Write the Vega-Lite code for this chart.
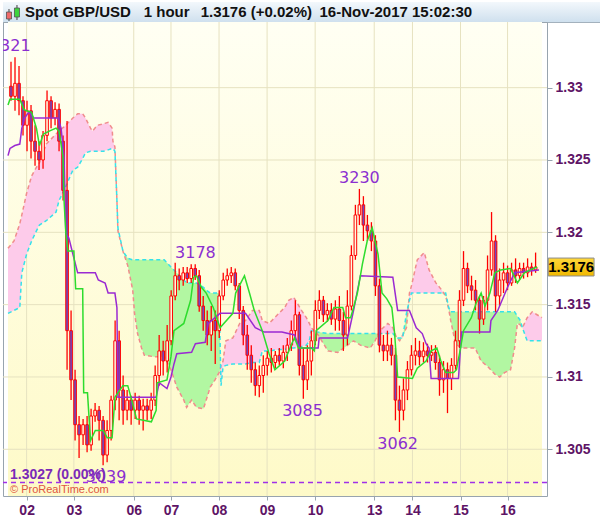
{
"$schema": "https://vega.github.io/schema/vega-lite/v6.json",
"padding": {"left": 1, "top": 1, "right": 0, "bottom": 0},
"background": "white",
"spacing": 0,
"bounds": "flush",
"config": {"view": {"stroke": null}, "font": "Liberation Sans"},
"datasets": {
"candles": [
{"t":1,"o":1.3301,"hi":1.3318,"lo":1.3291,"c":1.3294},
{"t":3,"o":1.3294,"hi":1.3321,"lo":1.3284,"c":1.3303},
{"t":5,"o":1.3303,"hi":1.3315,"lo":1.3281,"c":1.3291},
{"t":7,"o":1.3291,"hi":1.3294,"lo":1.3267,"c":1.3274},
{"t":9,"o":1.3274,"hi":1.3291,"lo":1.3256,"c":1.3284},
{"t":11,"o":1.3284,"hi":1.3288,"lo":1.3251,"c":1.3263},
{"t":13,"o":1.3263,"hi":1.3274,"lo":1.3246,"c":1.3256},
{"t":15,"o":1.3256,"hi":1.3263,"lo":1.3243,"c":1.3250},
{"t":17,"o":1.3250,"hi":1.3270,"lo":1.3244,"c":1.3267},
{"t":19,"o":1.3267,"hi":1.3298,"lo":1.3263,"c":1.3291},
{"t":21,"o":1.3291,"hi":1.3294,"lo":1.3272,"c":1.3279},
{"t":23,"o":1.3279,"hi":1.3290,"lo":1.3274,"c":1.3285},
{"t":25,"o":1.3285,"hi":1.3289,"lo":1.3256,"c":1.3263},
{"t":27,"o":1.3263,"hi":1.3267,"lo":1.3222,"c":1.3229},
{"t":29,"o":1.3229,"hi":1.3277,"lo":1.3105,"c":1.3132},
{"t":31,"o":1.3132,"hi":1.3146,"lo":1.3084,"c":1.3098},
{"t":33,"o":1.3098,"hi":1.3105,"lo":1.3056,"c":1.3067},
{"t":35,"o":1.3067,"hi":1.3073,"lo":1.3044,"c":1.3060},
{"t":37,"o":1.3060,"hi":1.3071,"lo":1.3053,"c":1.3067},
{"t":39,"o":1.3067,"hi":1.3073,"lo":1.3048,"c":1.3053},
{"t":41,"o":1.3053,"hi":1.3078,"lo":1.3049,"c":1.3073},
{"t":43,"o":1.3073,"hi":1.3082,"lo":1.3069,"c":1.3077},
{"t":45,"o":1.3077,"hi":1.3080,"lo":1.3056,"c":1.3070},
{"t":47,"o":1.3070,"hi":1.3073,"lo":1.3039,"c":1.3046},
{"t":49,"o":1.3046,"hi":1.3070,"lo":1.3041,"c":1.3063},
{"t":51,"o":1.3063,"hi":1.3087,"lo":1.3056,"c":1.3084},
{"t":53,"o":1.3084,"hi":1.3139,"lo":1.3077,"c":1.3125},
{"t":55,"o":1.3125,"hi":1.3132,"lo":1.3070,"c":1.3091},
{"t":57,"o":1.3091,"hi":1.3101,"lo":1.3067,"c":1.3077},
{"t":59,"o":1.3077,"hi":1.3091,"lo":1.3070,"c":1.3084},
{"t":61,"o":1.3084,"hi":1.3087,"lo":1.3067,"c":1.3077},
{"t":63,"o":1.3077,"hi":1.3089,"lo":1.3071,"c":1.3084},
{"t":65,"o":1.3084,"hi":1.3087,"lo":1.3067,"c":1.3077},
{"t":67,"o":1.3077,"hi":1.3085,"lo":1.3063,"c":1.3080},
{"t":69,"o":1.3080,"hi":1.3085,"lo":1.3070,"c":1.3077},
{"t":71,"o":1.3077,"hi":1.3089,"lo":1.3071,"c":1.3084},
{"t":73,"o":1.3084,"hi":1.3108,"lo":1.3080,"c":1.3101},
{"t":75,"o":1.3101,"hi":1.3129,"lo":1.3094,"c":1.3118},
{"t":77,"o":1.3118,"hi":1.3125,"lo":1.3101,"c":1.3111},
{"t":79,"o":1.3111,"hi":1.3136,"lo":1.3103,"c":1.3125},
{"t":81,"o":1.3125,"hi":1.3160,"lo":1.3122,"c":1.3156},
{"t":83,"o":1.3156,"hi":1.3179,"lo":1.3153,"c":1.3170},
{"t":85,"o":1.3170,"hi":1.3175,"lo":1.3160,"c":1.3167},
{"t":87,"o":1.3167,"hi":1.3176,"lo":1.3163,"c":1.3172},
{"t":89,"o":1.3172,"hi":1.3176,"lo":1.3165,"c":1.3168},
{"t":91,"o":1.3168,"hi":1.3178,"lo":1.3165,"c":1.3175},
{"t":93,"o":1.3175,"hi":1.3178,"lo":1.3167,"c":1.3170},
{"t":95,"o":1.3170,"hi":1.3174,"lo":1.3145,"c":1.3149},
{"t":97,"o":1.3149,"hi":1.3156,"lo":1.3132,"c":1.3139},
{"t":99,"o":1.3139,"hi":1.3146,"lo":1.3122,"c":1.3129},
{"t":101,"o":1.3129,"hi":1.3149,"lo":1.3118,"c":1.3139},
{"t":103,"o":1.3139,"hi":1.3146,"lo":1.3109,"c":1.3132},
{"t":105,"o":1.3132,"hi":1.3160,"lo":1.3127,"c":1.3156},
{"t":107,"o":1.3156,"hi":1.3172,"lo":1.3153,"c":1.3167},
{"t":109,"o":1.3167,"hi":1.3175,"lo":1.3163,"c":1.3170},
{"t":111,"o":1.3170,"hi":1.3176,"lo":1.3165,"c":1.3172},
{"t":113,"o":1.3172,"hi":1.3175,"lo":1.3160,"c":1.3163},
{"t":115,"o":1.3163,"hi":1.3165,"lo":1.3140,"c":1.3146},
{"t":117,"o":1.3146,"hi":1.3149,"lo":1.3122,"c":1.3129},
{"t":119,"o":1.3129,"hi":1.3136,"lo":1.3105,"c":1.3115},
{"t":121,"o":1.3115,"hi":1.3122,"lo":1.3096,"c":1.3105},
{"t":123,"o":1.3105,"hi":1.3110,"lo":1.3087,"c":1.3094},
{"t":125,"o":1.3094,"hi":1.3108,"lo":1.3086,"c":1.3101},
{"t":127,"o":1.3101,"hi":1.3115,"lo":1.3089,"c":1.3108},
{"t":129,"o":1.3108,"hi":1.3118,"lo":1.3101,"c":1.3113},
{"t":131,"o":1.3113,"hi":1.3120,"lo":1.3103,"c":1.3110},
{"t":133,"o":1.3110,"hi":1.3118,"lo":1.3106,"c":1.3115},
{"t":135,"o":1.3115,"hi":1.3120,"lo":1.3108,"c":1.3111},
{"t":137,"o":1.3111,"hi":1.3122,"lo":1.3106,"c":1.3117},
{"t":139,"o":1.3117,"hi":1.3127,"lo":1.3111,"c":1.3122},
{"t":141,"o":1.3122,"hi":1.3139,"lo":1.3118,"c":1.3132},
{"t":143,"o":1.3132,"hi":1.3153,"lo":1.3125,"c":1.3143},
{"t":145,"o":1.3143,"hi":1.3145,"lo":1.3101,"c":1.3108},
{"t":147,"o":1.3108,"hi":1.3120,"lo":1.3085,"c":1.3098},
{"t":149,"o":1.3098,"hi":1.3122,"lo":1.3091,"c":1.3111},
{"t":151,"o":1.3111,"hi":1.3132,"lo":1.3101,"c":1.3125},
{"t":153,"o":1.3125,"hi":1.3153,"lo":1.3122,"c":1.3146},
{"t":155,"o":1.3146,"hi":1.3160,"lo":1.3140,"c":1.3153},
{"t":157,"o":1.3153,"hi":1.3156,"lo":1.3138,"c":1.3143},
{"t":159,"o":1.3143,"hi":1.3151,"lo":1.3138,"c":1.3146},
{"t":161,"o":1.3146,"hi":1.3151,"lo":1.3136,"c":1.3140},
{"t":163,"o":1.3140,"hi":1.3153,"lo":1.3132,"c":1.3147},
{"t":165,"o":1.3147,"hi":1.3156,"lo":1.3132,"c":1.3139},
{"t":167,"o":1.3139,"hi":1.3145,"lo":1.3118,"c":1.3129},
{"t":169,"o":1.3129,"hi":1.3160,"lo":1.3122,"c":1.3149},
{"t":171,"o":1.3149,"hi":1.3191,"lo":1.3146,"c":1.3184},
{"t":173,"o":1.3184,"hi":1.3219,"lo":1.3181,"c":1.3212},
{"t":175,"o":1.3212,"hi":1.3230,"lo":1.3205,"c":1.3219},
{"t":177,"o":1.3219,"hi":1.3225,"lo":1.3194,"c":1.3205},
{"t":179,"o":1.3205,"hi":1.3212,"lo":1.3194,"c":1.3201},
{"t":181,"o":1.3201,"hi":1.3207,"lo":1.3187,"c":1.3194},
{"t":183,"o":1.3194,"hi":1.3198,"lo":1.3156,"c":1.3163},
{"t":185,"o":1.3163,"hi":1.3168,"lo":1.3117,"c":1.3122},
{"t":187,"o":1.3122,"hi":1.3129,"lo":1.3111,"c":1.3118},
{"t":189,"o":1.3118,"hi":1.3132,"lo":1.3111,"c":1.3122},
{"t":191,"o":1.3122,"hi":1.3127,"lo":1.3108,"c":1.3115},
{"t":193,"o":1.3115,"hi":1.3120,"lo":1.3070,"c":1.3084},
{"t":195,"o":1.3084,"hi":1.3094,"lo":1.3062,"c":1.3077},
{"t":197,"o":1.3077,"hi":1.3099,"lo":1.3070,"c":1.3091},
{"t":199,"o":1.3091,"hi":1.3111,"lo":1.3084,"c":1.3105},
{"t":201,"o":1.3105,"hi":1.3122,"lo":1.3101,"c":1.3115},
{"t":203,"o":1.3115,"hi":1.3127,"lo":1.3108,"c":1.3118},
{"t":205,"o":1.3118,"hi":1.3125,"lo":1.3108,"c":1.3114},
{"t":207,"o":1.3114,"hi":1.3124,"lo":1.3110,"c":1.3118},
{"t":209,"o":1.3118,"hi":1.3123,"lo":1.3110,"c":1.3115},
{"t":211,"o":1.3115,"hi":1.3122,"lo":1.3111,"c":1.3117},
{"t":213,"o":1.3117,"hi":1.3122,"lo":1.3105,"c":1.3110},
{"t":215,"o":1.3110,"hi":1.3115,"lo":1.3087,"c":1.3098},
{"t":217,"o":1.3098,"hi":1.3111,"lo":1.3089,"c":1.3105},
{"t":219,"o":1.3105,"hi":1.3110,"lo":1.3075,"c":1.3099},
{"t":221,"o":1.3099,"hi":1.3113,"lo":1.3091,"c":1.3108},
{"t":223,"o":1.3108,"hi":1.3132,"lo":1.3105,"c":1.3125},
{"t":225,"o":1.3125,"hi":1.3160,"lo":1.3120,"c":1.3153},
{"t":227,"o":1.3153,"hi":1.3187,"lo":1.3149,"c":1.3175},
{"t":229,"o":1.3175,"hi":1.3179,"lo":1.3158,"c":1.3163},
{"t":231,"o":1.3163,"hi":1.3170,"lo":1.3153,"c":1.3160},
{"t":233,"o":1.3160,"hi":1.3167,"lo":1.3146,"c":1.3153},
{"t":235,"o":1.3153,"hi":1.3156,"lo":1.3130,"c":1.3140},
{"t":237,"o":1.3140,"hi":1.3156,"lo":1.3136,"c":1.3153},
{"t":239,"o":1.3153,"hi":1.3184,"lo":1.3146,"c":1.3174},
{"t":241,"o":1.3174,"hi":1.3214,"lo":1.3170,"c":1.3194},
{"t":243,"o":1.3194,"hi":1.3198,"lo":1.3145,"c":1.3156},
{"t":245,"o":1.3156,"hi":1.3175,"lo":1.3149,"c":1.3167},
{"t":247,"o":1.3167,"hi":1.3179,"lo":1.3158,"c":1.3172},
{"t":249,"o":1.3172,"hi":1.3177,"lo":1.3160,"c":1.3165},
{"t":251,"o":1.3165,"hi":1.3179,"lo":1.3163,"c":1.3174},
{"t":253,"o":1.3174,"hi":1.3182,"lo":1.3165,"c":1.3170},
{"t":255,"o":1.3170,"hi":1.3179,"lo":1.3167,"c":1.3175},
{"t":257,"o":1.3175,"hi":1.3179,"lo":1.3168,"c":1.3172},
{"t":259,"o":1.3172,"hi":1.3182,"lo":1.3169,"c":1.3176},
{"t":261,"o":1.3176,"hi":1.3179,"lo":1.3170,"c":1.3174},
{"t":263,"o":1.3174,"hi":1.3186,"lo":1.3172,"c":1.3176}
],
"cloud": [
{"t":-0.5,"a":1.3189,"b":1.3144},{"t":2.5,"a":1.3194,"b":1.3146},{"t":5.4,"a":1.3206,"b":1.3148},{"t":6.4,"a":1.3212,"b":1.3172},
{"t":8.8,"a":1.3227,"b":1.3185},{"t":11.3,"a":1.3239,"b":1.3194},{"t":13.7,"a":1.3245,"b":1.3201},{"t":15.2,"a":1.3248,"b":1.3205},
{"t":18.6,"a":1.3261,"b":1.3208},{"t":23.5,"a":1.3268,"b":1.3214},{"t":25.0,"a":1.3270,"b":1.3222},{"t":27.5,"a":1.3273,"b":1.3229},
{"t":31.9,"a":1.3279,"b":1.3243},{"t":34.3,"a":1.3282,"b":1.3245},{"t":36.8,"a":1.3282,"b":1.3251},{"t":38.2,"a":1.3279,"b":1.3255},
{"t":40.7,"a":1.3272,"b":1.3256},{"t":41.7,"a":1.3270,"b":1.3256},{"t":44.1,"a":1.3274,"b":1.3256},{"t":47.1,"a":1.3275,"b":1.3256},
{"t":49.5,"a":1.3276,"b":1.3257},{"t":51.5,"a":1.3272,"b":1.3258},{"t":51.9,"a":1.3263,"b":1.3258},{"t":52.9,"a":1.3259,"b":1.3256},
{"t":53.9,"a":1.3222,"b":1.3222},{"t":54.4,"a":1.3201,"b":1.3203},{"t":56.9,"a":1.3187,"b":1.3187},{"t":59.3,"a":1.3177,"b":1.3182},
{"t":61.8,"a":1.3160,"b":1.3181},{"t":62.7,"a":1.3144,"b":1.3181},{"t":64.2,"a":1.3130,"b":1.3181},{"t":66.2,"a":1.3120,"b":1.3181},
{"t":67.6,"a":1.3115,"b":1.3181},{"t":72.5,"a":1.3114,"b":1.3181},{"t":77.5,"a":1.3114,"b":1.3181},{"t":80.9,"a":1.3105,"b":1.3176},
{"t":83.8,"a":1.3093,"b":1.3172},{"t":87.3,"a":1.3084,"b":1.3167},{"t":88.7,"a":1.3079,"b":1.3165},{"t":91.2,"a":1.3084,"b":1.3165},
{"t":93.6,"a":1.3079,"b":1.3165},{"t":97.1,"a":1.3078,"b":1.3162},{"t":98.5,"a":1.3084,"b":1.3160},{"t":100.5,"a":1.3093,"b":1.3158},
{"t":102.9,"a":1.3098,"b":1.3158},{"t":104.9,"a":1.3103,"b":1.3158},{"t":105.4,"a":1.3105,"b":1.3125},{"t":105.9,"a":1.3108,"b":1.3094},
{"t":106.9,"a":1.3111,"b":1.3107},{"t":108.3,"a":1.3125,"b":1.3108},{"t":111.8,"a":1.3127,"b":1.3109},{"t":115.2,"a":1.3137,"b":1.3109},
{"t":118.1,"a":1.3139,"b":1.3109},{"t":121.6,"a":1.3146,"b":1.3110},{"t":125.0,"a":1.3146,"b":1.3110},{"t":126.5,"a":1.3139,"b":1.3118},
{"t":129.9,"a":1.3137,"b":1.3118},{"t":134.8,"a":1.3144,"b":1.3119},{"t":137.7,"a":1.3148,"b":1.3119},{"t":139.7,"a":1.3153,"b":1.3120},
{"t":142.2,"a":1.3155,"b":1.3120},{"t":146.1,"a":1.3146,"b":1.3121},{"t":148.5,"a":1.3141,"b":1.3122},{"t":150.0,"a":1.3137,"b":1.3125},
{"t":151.0,"a":1.3134,"b":1.3132},{"t":154.4,"a":1.3129,"b":1.3131},{"t":159.3,"a":1.3118,"b":1.3130},{"t":164.2,"a":1.3117,"b":1.3130},
{"t":169.1,"a":1.3122,"b":1.3130},{"t":172.1,"a":1.3125,"b":1.3130},{"t":175.5,"a":1.3122,"b":1.3130},{"t":180.4,"a":1.3120,"b":1.3130},
{"t":182.8,"a":1.3125,"b":1.3130},{"t":185.3,"a":1.3132,"b":1.3130},{"t":189.2,"a":1.3137,"b":1.3130},{"t":191.7,"a":1.3134,"b":1.3130},
{"t":193.6,"a":1.3127,"b":1.3127},{"t":195.1,"a":1.3125,"b":1.3127},{"t":196.6,"a":1.3129,"b":1.3127},{"t":198.5,"a":1.3134,"b":1.3144},
{"t":200.0,"a":1.3158,"b":1.3153},{"t":201.0,"a":1.3163,"b":1.3158},{"t":203.9,"a":1.3181,"b":1.3158},{"t":207.4,"a":1.3186,"b":1.3158},
{"t":209.8,"a":1.3174,"b":1.3158},{"t":213.2,"a":1.3165,"b":1.3158},{"t":216.2,"a":1.3160,"b":1.3158},{"t":218.1,"a":1.3156,"b":1.3158},
{"t":219.6,"a":1.3147,"b":1.3148},{"t":220.6,"a":1.3139,"b":1.3145},{"t":223.0,"a":1.3123,"b":1.3145},{"t":226.0,"a":1.3120,"b":1.3145},
{"t":232.8,"a":1.3120,"b":1.3145},{"t":235.8,"a":1.3111,"b":1.3145},{"t":239.2,"a":1.3107,"b":1.3145},{"t":242.6,"a":1.3102,"b":1.3145},
{"t":245.1,"a":1.3100,"b":1.3145},{"t":247.5,"a":1.3103,"b":1.3145},{"t":250.5,"a":1.3105,"b":1.3145},{"t":252.5,"a":1.3120,"b":1.3145},
{"t":253.9,"a":1.3137,"b":1.3142},{"t":255.4,"a":1.3136,"b":1.3139},{"t":256.4,"a":1.3134,"b":1.3134},{"t":258.8,"a":1.3141,"b":1.3125},
{"t":261.3,"a":1.3145,"b":1.3125},{"t":263.7,"a":1.3143,"b":1.3125},{"t":266.2,"a":1.3141,"b":1.3125}
],
"tenkan": [
{"t":-0.5,"p":1.3288},{"t":0.5,"p":1.3292},{"t":5.4,"p":1.3292},{"t":7.4,"p":1.3285},{"t":8.8,"p":1.3284},{"t":11.3,"p":1.3283},{"t":13.7,"p":1.3272},{"t":15.2,"p":1.3260},{"t":17.2,"p":1.3268},{"t":20.1,"p":1.3270},{"t":23.5,"p":1.3272},{"t":25.0,"p":1.3270},{"t":27.0,"p":1.3252},{"t":27.5,"p":1.3222},{"t":28.4,"p":1.3199},{"t":29.4,"p":1.3187},{"t":32.4,"p":1.3187},{"t":33.3,"p":1.3161},{"t":36.8,"p":1.3161},{"t":37.3,"p":1.3089},{"t":39.2,"p":1.3089},{"t":40.7,"p":1.3056},{"t":43.1,"p":1.3063},{"t":47.1,"p":1.3063},{"t":49.0,"p":1.3058},{"t":51.5,"p":1.3058},{"t":52.9,"p":1.3086},{"t":56.9,"p":1.3094},{"t":59.3,"p":1.3094},{"t":61.3,"p":1.3084},{"t":63.7,"p":1.3071},{"t":71.1,"p":1.3069},{"t":73.5,"p":1.3077},{"t":74.0,"p":1.3096},{"t":78.9,"p":1.3098},{"t":80.9,"p":1.3114},{"t":82.4,"p":1.3132},{"t":87.3,"p":1.3137},{"t":90.7,"p":1.3153},{"t":92.2,"p":1.3169},{"t":93.6,"p":1.3170},{"t":96.1,"p":1.3162},{"t":98.5,"p":1.3158},{"t":102.0,"p":1.3148},{"t":105.4,"p":1.3134},{"t":111.8,"p":1.3144},{"t":113.2,"p":1.3158},{"t":117.6,"p":1.3170},{"t":120.1,"p":1.3158},{"t":122.5,"p":1.3146},{"t":126.5,"p":1.3132},{"t":129.9,"p":1.3116},{"t":132.8,"p":1.3105},{"t":137.7,"p":1.3111},{"t":141.2,"p":1.3123},{"t":142.6,"p":1.3127},{"t":144.6,"p":1.3120},{"t":151.0,"p":1.3120},{"t":152.5,"p":1.3118},{"t":153.4,"p":1.3132},{"t":159.3,"p":1.3139},{"t":162.3,"p":1.3148},{"t":166.7,"p":1.3148},{"t":168.1,"p":1.3141},{"t":170.6,"p":1.3141},{"t":172.1,"p":1.3148},{"t":174.0,"p":1.3158},{"t":176.5,"p":1.3178},{"t":178.9,"p":1.3194},{"t":181.4,"p":1.3203},{"t":182.8,"p":1.3194},{"t":184.3,"p":1.3185},{"t":186.3,"p":1.3158},{"t":188.7,"p":1.3154},{"t":191.2,"p":1.3148},{"t":192.6,"p":1.3130},{"t":194.1,"p":1.3100},{"t":201.5,"p":1.3099},{"t":203.9,"p":1.3106},{"t":208.3,"p":1.3111},{"t":210.8,"p":1.3118},{"t":213.7,"p":1.3120},{"t":215.7,"p":1.3111},{"t":218.1,"p":1.3103},{"t":222.1,"p":1.3103},{"t":223.5,"p":1.3105},{"t":225.5,"p":1.3120},{"t":227.0,"p":1.3132},{"t":230.9,"p":1.3141},{"t":233.3,"p":1.3151},{"t":235.8,"p":1.3158},{"t":237.7,"p":1.3149},{"t":240.2,"p":1.3158},{"t":242.6,"p":1.3172},{"t":245.6,"p":1.3174},{"t":250.5,"p":1.3175},{"t":253.9,"p":1.3165},{"t":257.4,"p":1.3172},{"t":260.3,"p":1.3174},{"t":263.7,"p":1.3176}
],
"kijun": [
{"t":-0.5,"p":1.3253},{"t":0.5,"p":1.3258},{"t":2.9,"p":1.3260},{"t":5.4,"p":1.3261},{"t":6.4,"p":1.3272},{"t":7.8,"p":1.3279},{"t":9.8,"p":1.3283},{"t":11.3,"p":1.3281},{"t":12.3,"p":1.3279},{"t":24.5,"p":1.3279},{"t":26.0,"p":1.3272},{"t":27.5,"p":1.3252},{"t":28.4,"p":1.3199},{"t":29.9,"p":1.3196},{"t":31.9,"p":1.3185},{"t":34.3,"p":1.3172},{"t":43.1,"p":1.3172},{"t":44.6,"p":1.3167},{"t":48.0,"p":1.3165},{"t":49.5,"p":1.3158},{"t":52.9,"p":1.3158},{"t":53.9,"p":1.3148},{"t":54.4,"p":1.3086},{"t":73.5,"p":1.3086},{"t":75.0,"p":1.3096},{"t":78.9,"p":1.3092},{"t":80.9,"p":1.3100},{"t":82.4,"p":1.3109},{"t":83.8,"p":1.3116},{"t":91.2,"p":1.3117},{"t":93.1,"p":1.3123},{"t":98.0,"p":1.3124},{"t":99.5,"p":1.3137},{"t":105.4,"p":1.3144},{"t":118.1,"p":1.3144},{"t":123.0,"p":1.3134},{"t":127.5,"p":1.3131},{"t":136.3,"p":1.3131},{"t":142.6,"p":1.3129},{"t":145.1,"p":1.3120},{"t":154.4,"p":1.3120},{"t":154.9,"p":1.3127},{"t":169.1,"p":1.3127},{"t":172.1,"p":1.3146},{"t":175.5,"p":1.3170},{"t":191.7,"p":1.3169},{"t":194.1,"p":1.3146},{"t":200.0,"p":1.3146},{"t":203.4,"p":1.3134},{"t":206.4,"p":1.3130},{"t":208.3,"p":1.3123},{"t":209.8,"p":1.3120},{"t":210.8,"p":1.3099},{"t":224.5,"p":1.3099},{"t":226.0,"p":1.3131},{"t":240.2,"p":1.3131},{"t":240.7,"p":1.3139},{"t":244.1,"p":1.3146},{"t":249.0,"p":1.3162},{"t":252.5,"p":1.3172},{"t":264.7,"p":1.3174}
],
"highs": [
{"t":0.6,"p":1.3321,"label":"3321"},{"t":93.1,"p":1.3178,"label":"3178"},{"t":175.0,"p":1.3230,"label":"3230"}
],
"lows": [
{"t":146.6,"p":1.3085,"label":"3085"},{"t":194.1,"p":1.3062,"label":"3062"},{"t":48.5,"p":1.3039,"label":"3039"}
],
"gridx": [{"g":8.8},{"g":32.4},{"g":62.3},{"g":80.9},{"g":104.9},{"g":128.9},{"g":152.9},{"g":182.4},{"g":201.5},{"g":225.5},{"g":249.0}],
"gridy": [{"g":1.305},{"g":1.31},{"g":1.315},{"g":1.32},{"g":1.325},{"g":1.33}]
},
"vconcat": [
{
"width": 599, "height": 20,
"view": {"stroke": "#a3b1bd", "strokeWidth": 1},
"layer": [
{"data": {"values": [{"x0": 0, "x1": 600}]},
 "mark": {"type": "rect", "fill": {"gradient": "linear", "x1": 0, "y1": 0, "x2": 0, "y2": 1, "stops": [{"offset": 0, "color": "#f3f8fc"}, {"offset": 1, "color": "#cfe0ee"}]}},
 "encoding": {"x": {"field": "x0", "type": "quantitative", "scale": {"domain": [0, 600], "nice": false, "zero": false}, "axis": null},
  "x2": {"field": "x1"},
  "y": {"datum": 0, "type": "quantitative", "scale": {"domain": [0, 20], "nice": false, "zero": false}, "axis": null},
  "y2": {"datum": 20}}},
{"data": {"values": [{"x": 6, "y0": 1, "y1": 13}, {"x": 14, "y0": 2, "y1": 17}]},
 "mark": {"type": "rule", "color": "#404040", "strokeWidth": 1},
 "encoding": {"x": {"field": "x", "type": "quantitative", "axis": null}, "y": {"field": "y0", "type": "quantitative", "axis": null}, "y2": {"field": "y1"}}},
{"data": {"values": [{"x0": 3.5, "x1": 8.5, "y0": 3, "y1": 10, "k": "down"}, {"x0": 11.5, "x1": 16.5, "y0": 5, "y1": 14, "k": "up"}]},
 "mark": {"type": "rect", "stroke": "#505050", "strokeWidth": 0.8},
 "encoding": {"x": {"field": "x0", "type": "quantitative", "axis": null}, "x2": {"field": "x1"},
  "y": {"field": "y0", "type": "quantitative", "axis": null}, "y2": {"field": "y1"},
  "color": {"field": "k", "type": "nominal", "scale": {"domain": ["down", "up"], "range": ["#ef6b6b", "#3ed43e"]}, "legend": null}}},
{"data": {"values": [{"x": 22, "label": "Spot GBP/USD"}, {"x": 141, "label": "1 hour"}, {"x": 198, "label": "1.3176 (+0.02%)"}, {"x": 317, "label": "16-Nov-2017 15:02:30"}]},
 "mark": {"type": "text", "align": "left", "baseline": "middle", "fontWeight": "bold", "fontSize": 15, "color": "#111111", "font": "Liberation Sans"},
 "encoding": {"x": {"field": "x", "type": "quantitative", "axis": null}, "y": {"datum": 10, "type": "quantitative"}, "text": {"field": "label"}}}
]
},
{
"width": 544, "height": 474,
"view": {"stroke": "#98a4ae", "strokeWidth": 1},
"layer": [
{"data": {"values": [{}]},
 "mark": {"type": "rect", "fill": {"gradient": "linear", "x1": 0, "y1": 0, "x2": 0, "y2": 1, "stops": [{"offset": 0, "color": "#fffff3"}, {"offset": 1, "color": "#fefac8"}]}},
 "encoding": {
  "x": {"datum": -0.5, "type": "quantitative", "scale": {"domain": [-0.5, 266.2], "nice": false, "zero": false},
   "axis": {"title": null, "grid": false, "domain": false, "tickColor": "#98a4ae", "tickSize": 4, "labelPadding": 3,
    "values": [8.8, 32.4, 62.3, 80.9, 104.9, 128.9, 152.9, 182.4, 201.5, 225.5, 249.0],
    "labelExpr": "datum.value < 20 ? '02' : datum.value < 50 ? '03' : datum.value < 70 ? '06' : datum.value < 90 ? '07' : datum.value < 115 ? '08' : datum.value < 140 ? '09' : datum.value < 165 ? '10' : datum.value < 190 ? '13' : datum.value < 210 ? '14' : datum.value < 235 ? '15' : '16'",
    "labelFont": "Liberation Sans", "labelFontWeight": "bold", "labelFontSize": 14, "labelColor": "#5e1466", "labelFlush": false, "labelOverlap": false}},
  "x2": {"datum": 266.2},
  "y": {"datum": 1.30177, "type": "quantitative", "scale": {"domain": [1.30177, 1.33454], "nice": false, "zero": false},
   "axis": {"title": null, "orient": "right", "grid": false, "domain": false, "tickColor": "#98a4ae", "tickSize": 5, "labelPadding": 3,
    "values": [1.305, 1.31, 1.315, 1.32, 1.325, 1.33], "format": ".3~f",
    "labelFont": "Liberation Sans", "labelFontWeight": "bold", "labelFontSize": 14, "labelColor": "#5e1466", "labelOverlap": false}},
  "y2": {"datum": 1.33454}}},
{"data": {"name": "gridx"}, "mark": {"type": "rule", "color": "#e6e2c0", "strokeWidth": 1},
 "encoding": {"x": {"field": "g", "type": "quantitative", "axis": {"title": null}}}},
{"data": {"name": "gridy"}, "mark": {"type": "rule", "color": "#e6e2c0", "strokeWidth": 1},
 "encoding": {"y": {"field": "g", "type": "quantitative", "axis": {"title": null}}}},
{"data": {"name": "cloud"}, "transform": [{"calculate": "min(datum.a, datum.b)", "as": "lo"}],
 "mark": {"type": "area", "fill": "#fdcbea", "clip": true},
 "encoding": {"x": {"field": "t", "type": "quantitative", "axis": {"title": null}}, "y": {"field": "a", "type": "quantitative", "axis": {"title": null}}, "y2": {"field": "lo"}}},
{"data": {"name": "cloud"}, "transform": [{"calculate": "min(datum.a, datum.b)", "as": "lo"}],
 "mark": {"type": "area", "fill": "#b2f7a2", "clip": true},
 "encoding": {"x": {"field": "t", "type": "quantitative", "axis": {"title": null}}, "y": {"field": "b", "type": "quantitative", "axis": {"title": null}}, "y2": {"field": "lo"}}},
{"data": {"name": "cloud"},
 "mark": {"type": "line", "color": "#f08c8c", "strokeWidth": 1.5, "strokeDash": [4, 3], "clip": true},
 "encoding": {"x": {"field": "t", "type": "quantitative", "axis": {"title": null}}, "y": {"field": "a", "type": "quantitative", "axis": {"title": null}}}},
{"data": {"name": "cloud"},
 "mark": {"type": "line", "color": "#35e2ea", "strokeWidth": 1.5, "strokeDash": [4, 3], "clip": true},
 "encoding": {"x": {"field": "t", "type": "quantitative", "axis": {"title": null}}, "y": {"field": "b", "type": "quantitative", "axis": {"title": null}}}},
{"data": {"name": "candles"},
 "mark": {"type": "rule", "color": "#ff0000", "strokeWidth": 1.3},
 "encoding": {"x": {"field": "t", "type": "quantitative", "axis": {"title": null}}, "y": {"field": "lo", "type": "quantitative", "axis": {"title": null}}, "y2": {"field": "hi"}}},
{"data": {"name": "candles"},
 "mark": {"type": "bar", "width": 2.6, "stroke": "#ff0000", "strokeWidth": 1},
 "encoding": {"x": {"field": "t", "type": "quantitative", "axis": {"title": null}}, "y": {"field": "o", "type": "quantitative", "axis": {"title": null}}, "y2": {"field": "c"},
  "fill": {"condition": {"test": "datum.c < datum.o", "value": "#7048c0"}, "value": "#fffbe0"}}},
{"data": {"name": "kijun"},
 "mark": {"type": "line", "color": "#9a2ad2", "strokeWidth": 1.5, "clip": true},
 "encoding": {"x": {"field": "t", "type": "quantitative", "axis": {"title": null}}, "y": {"field": "p", "type": "quantitative", "axis": {"title": null}}}},
{"data": {"name": "tenkan"},
 "mark": {"type": "line", "color": "#2ddc2d", "strokeWidth": 1.5, "clip": true},
 "encoding": {"x": {"field": "t", "type": "quantitative", "axis": {"title": null}}, "y": {"field": "p", "type": "quantitative", "axis": {"title": null}}}},
{"data": {"values": [{}]},
 "mark": {"type": "rule", "color": "#a030e8", "strokeWidth": 1.5, "strokeDash": [5, 4]},
 "encoding": {"y": {"datum": 1.3027, "type": "quantitative", "axis": {"title": null}}}},
{"data": {"name": "highs"},
 "mark": {"type": "text", "font": "DejaVu Sans", "fontSize": 16, "color": "#8b2fd0", "baseline": "bottom", "dy": -3, "clip": true},
 "encoding": {"x": {"field": "t", "type": "quantitative", "axis": {"title": null}}, "y": {"field": "p", "type": "quantitative", "axis": {"title": null}}, "text": {"field": "label"}}},
{"data": {"name": "lows"},
 "mark": {"type": "text", "font": "DejaVu Sans", "fontSize": 16, "color": "#8b2fd0", "baseline": "top", "dy": 4, "clip": true},
 "encoding": {"x": {"field": "t", "type": "quantitative", "axis": {"title": null}}, "y": {"field": "p", "type": "quantitative", "axis": {"title": null}}, "text": {"field": "label"}}},
{"data": {"values": [{"t": 0.5, "p": 1.30323, "label": "1.3027 (0.00%)"}]},
 "mark": {"type": "text", "font": "Liberation Sans", "fontSize": 14, "fontWeight": "bold", "color": "#7b2ab8", "align": "left", "baseline": "middle"},
 "encoding": {"x": {"field": "t", "type": "quantitative", "axis": {"title": null}}, "y": {"field": "p", "type": "quantitative", "axis": {"title": null}}, "text": {"field": "label"}}},
{"data": {"values": [{"t": 0.5, "p": 1.30219, "label": "© ProRealTime.com"}]},
 "mark": {"type": "text", "font": "Liberation Sans", "fontSize": 11, "color": "#e0553f", "align": "left", "baseline": "middle"},
 "encoding": {"x": {"field": "t", "type": "quantitative", "axis": {"title": null}}, "y": {"field": "p", "type": "quantitative", "axis": {"title": null}}, "text": {"field": "label"}}},
{"data": {"values": [{"t0": 269.3, "t1": 292.2, "p0": 1.31698, "p1": 1.31822}]},
 "mark": {"type": "rect", "fill": {"gradient": "linear", "x1": 0, "y1": 0, "x2": 0, "y2": 1, "stops": [{"offset": 0, "color": "#ffd83a"}, {"offset": 1, "color": "#f0b800"}]}, "stroke": "#8c8c8c", "strokeWidth": 1},
 "encoding": {"x": {"field": "t0", "type": "quantitative", "axis": {"title": null}}, "x2": {"field": "t1"}, "y": {"field": "p0", "type": "quantitative", "axis": {"title": null}}, "y2": {"field": "p1"}}},
{"data": {"values": [{"t": 280.75, "p": 1.3176, "label": "1.3176"}]},
 "mark": {"type": "text", "font": "Liberation Sans", "fontSize": 15, "fontWeight": "bold", "color": "#000000", "baseline": "middle"},
 "encoding": {"x": {"field": "t", "type": "quantitative", "axis": {"title": null}}, "y": {"field": "p", "type": "quantitative", "axis": {"title": null}}, "text": {"field": "label"}}}
]
}
]
}
